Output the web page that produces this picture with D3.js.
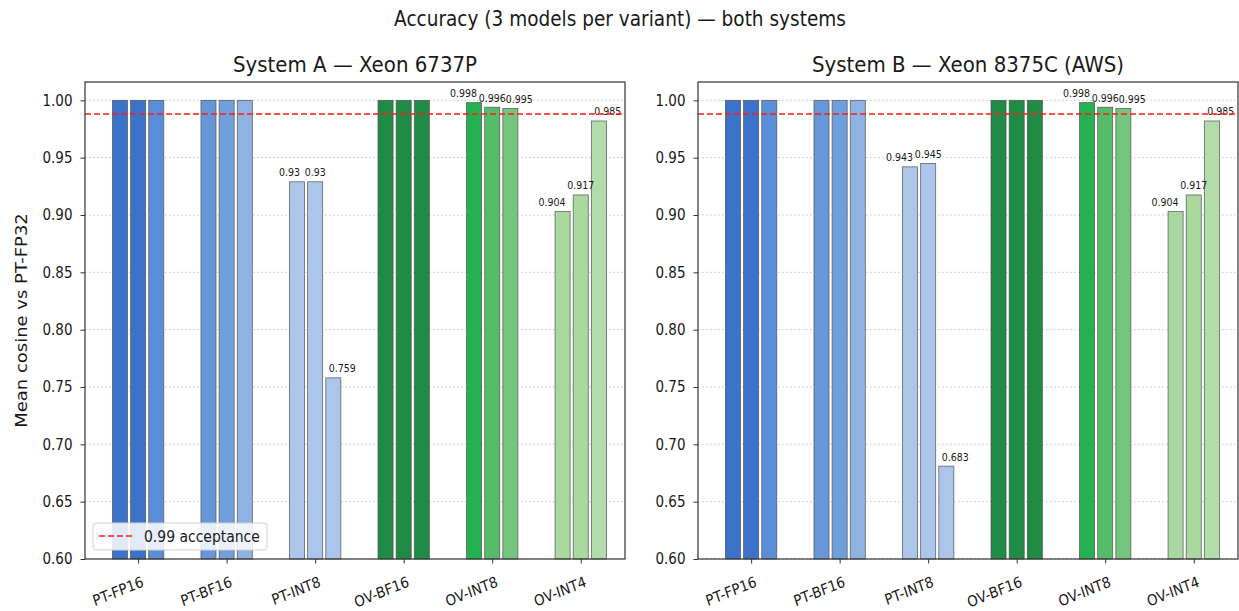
<!DOCTYPE html>
<html>
<head>
<meta charset="utf-8">
<script src="https://cdn.jsdelivr.net/npm/d3@7"></script>
<style>
  html, body { margin: 0; padding: 0; background: #fff; }
  svg { display: block; font-family: "DejaVu Sans", sans-serif; }
</style>
</head>
<body>
<svg id="chart" width="1239" height="611"></svg>
<script>
// ---------- data ----------
const categories = ["PT-FP16", "PT-BF16", "PT-INT8", "OV-BF16", "OV-INT8", "OV-INT4"];
const modelsPerVariant = 3;

const systemA_values = [
  [1.0, 1.0, 1.0],
  [1.0, 1.0, 1.0],
  [0.929, 0.929, 0.758],
  [1.0, 1.0, 1.0],
  [0.998, 0.994, 0.993],
  [0.903, 0.9175, 0.982]
];
const systemA_labels = [
  [null, null, null],
  [null, null, null],
  ["0.93", "0.93", "0.759"],
  [null, null, null],
  ["0.998", "0.996", "0.995"],
  ["0.904", "0.917", "0.985"]
];
const systemB_values = [
  [1.0, 1.0, 1.0],
  [1.0, 1.0, 1.0],
  [0.942, 0.945, 0.681],
  [1.0, 1.0, 1.0],
  [0.998, 0.994, 0.993],
  [0.903, 0.9175, 0.982]
];
const systemB_labels = [
  [null, null, null],
  [null, null, null],
  ["0.943", "0.945", "0.683"],
  [null, null, null],
  ["0.998", "0.996", "0.995"],
  ["0.904", "0.917", "0.985"]
];

const barColors = [
  ["#3a73c9", "#3a73c9", "#5a8ed8"],
  ["#6797d8", "#70a0dc", "#8fb2e3"],
  ["#abc6e9", "#abc6e9", "#abc6e9"],
  ["#1f8b45", "#1f8b45", "#1f8b45"],
  ["#25b14f", "#55bc6a", "#76c57f"],
  ["#a9d8a1", "#a9d8a1", "#b2dcaa"]
];

const yTicks = [0.60, 0.65, 0.70, 0.75, 0.80, 0.85, 0.90, 0.95, 1.00];
const acceptance = 0.988;
const acceptanceLabel = "0.99 acceptance";
const suptitle = "Accuracy (3 models per variant) \u2014 both systems";
const panelTitles = ["System A \u2014 Xeon 6737P", "System B \u2014 Xeon 8375C (AWS)"];
const yLabel = "Mean cosine vs PT-FP32";

// ---------- layout ----------
const svg = d3.select("#chart");
const plotTop = 82, plotBottom = 559;
const sx = 0.9; // horizontal squeeze of text glyphs
const panels = [
  { left: 85, right: 625, values: systemA_values, labels: systemA_labels, title: panelTitles[0], legend: true },
  { left: 698, right: 1238, values: systemB_values, labels: systemB_labels, title: panelTitles[1], legend: false }
];
const barOffset = 0.205, barWidth = 0.17;

function addText(parent, x, y, str, size, anchor, scaleX) {
  return parent.append("text")
    .attr("transform", `translate(${x},${y}) scale(${scaleX || sx},1)`)
    .attr("text-anchor", anchor || "start")
    .attr("font-size", size)
    .attr("fill", "#1a1a1a")
    .text(str);
}

addText(svg, 620, 26, suptitle, 21.5, "middle", 0.86);

svg.append("text")
  .attr("transform", `translate(21,${(plotTop + plotBottom) / 2}) scale(${sx},1) rotate(-90)`)
  .attr("text-anchor", "middle")
  .attr("dy", "0.35em")
  .attr("font-size", 18)
  .attr("fill", "#1a1a1a")
  .text(yLabel);

panels.forEach(p => {
  const x = d3.scaleLinear().domain([-0.6, 5.5]).range([p.left, p.right]);
  const y = d3.scaleLinear().domain([0.6, 1.016]).range([plotBottom, plotTop]);
  const g = svg.append("g");
  const bw = x(barWidth) - x(0);

  // grid
  g.append("g").selectAll("line").data(yTicks).join("line")
    .attr("x1", p.left).attr("x2", p.right)
    .attr("y1", d => y(d)).attr("y2", d => y(d))
    .attr("stroke", "#b8b8b8").attr("stroke-width", 0.8)
    .attr("stroke-dasharray", "1.6,2.4");

  // bars
  const flat = [];
  p.values.forEach((vals, i) => vals.forEach((v, j) => flat.push({ i, j, v, label: p.labels[i][j] })));
  g.append("g").selectAll("rect").data(flat).join("rect")
    .attr("x", d => x(d.i + (d.j - 1) * barOffset) - bw / 2)
    .attr("width", bw)
    .attr("y", d => y(d.v))
    .attr("height", d => y(0.6) - y(d.v))
    .attr("fill", d => barColors[d.i][d.j])
    .attr("stroke", "#505050").attr("stroke-opacity", 0.85).attr("stroke-width", 0.8);

  // value labels
  const lblG = g.append("g");
  flat.filter(d => d.label).forEach(d => {
    const cx = x(d.i + (d.j - 1) * barOffset);
    const lx = d.j === 0 ? cx + 3 : d.j === 2 ? cx - bw / 2 + 3 : cx;
    const anchor = d.j === 0 ? "end" : d.j === 2 ? "start" : "middle";
    addText(lblG, lx, y(d.v) - 5.5, d.label, 10.5, anchor);
  });

  // acceptance line
  g.append("line")
    .attr("x1", p.left).attr("x2", p.right)
    .attr("y1", y(acceptance)).attr("y2", y(acceptance))
    .attr("stroke", "#ff1a1a").attr("stroke-width", 1.5)
    .attr("stroke-dasharray", "6,3");

  // frame
  g.append("rect")
    .attr("x", p.left).attr("y", plotTop)
    .attr("width", p.right - p.left).attr("height", plotBottom - plotTop)
    .attr("fill", "none").attr("stroke", "#333").attr("stroke-width", 1.2);

  // y axis
  const yAxis = d3.axisLeft(y).tickValues(yTicks).tickFormat(d3.format(".2f")).tickSize(4.5).tickPadding(8);
  const ya = g.append("g").attr("transform", `translate(${p.left},0)`).call(yAxis);
  ya.select(".domain").remove();
  ya.selectAll("line").attr("stroke", "#333").attr("stroke-width", 1);
  ya.selectAll("text")
    .attr("x", 0)
    .attr("transform", `translate(-12.5,0) scale(${sx},1)`)
    .attr("font-size", 15).attr("fill", "#1a1a1a").attr("font-family", "DejaVu Sans");

  // x axis
  const xAxis = d3.axisBottom(x).tickValues(d3.range(categories.length)).tickFormat(i => categories[i]).tickSize(4.5);
  const xa = g.append("g").attr("transform", `translate(0,${plotBottom})`).call(xAxis);
  xa.select(".domain").remove();
  xa.selectAll("line").attr("stroke", "#333").attr("stroke-width", 1);
  xa.selectAll("text")
    .attr("font-size", 15).attr("fill", "#1a1a1a").attr("font-family", "DejaVu Sans")
    .attr("text-anchor", "end")
    .attr("y", null).attr("dy", null)
    .attr("transform", `translate(6,27) scale(${sx},1) rotate(-20)`);

  // title
  addText(g, (p.left + p.right) / 2, 72, p.title, 22, "middle");

  // legend
  if (p.legend) {
    const lg = g.append("g");
    lg.append("rect")
      .attr("x", 93).attr("y", 523).attr("width", 174).attr("height", 27).attr("rx", 3)
      .attr("fill", "#fff").attr("fill-opacity", 0.85)
      .attr("stroke", "#d0d0d0").attr("stroke-width", 1);
    lg.append("line")
      .attr("x1", 99).attr("x2", 132).attr("y1", 536).attr("y2", 536)
      .attr("stroke", "#ff1a1a").attr("stroke-width", 1.5).attr("stroke-dasharray", "6,3");
    addText(lg, 144, 541.5, acceptanceLabel, 15.5, "start");
  }
});
</script>
</body>
</html>
